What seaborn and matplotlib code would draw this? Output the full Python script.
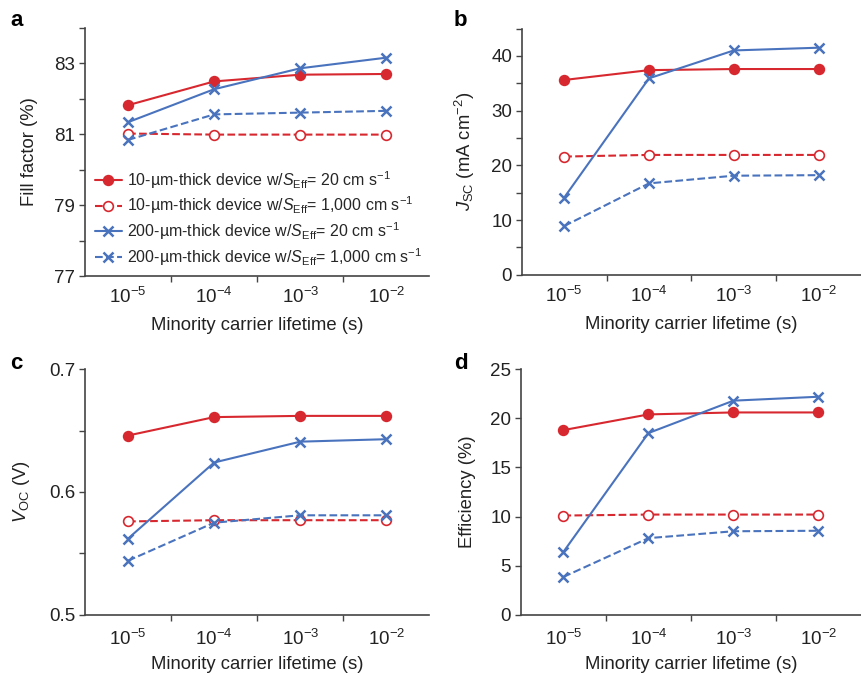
import numpy as np
import pandas as pd
import matplotlib
matplotlib.use("Agg")
import matplotlib.pyplot as plt
from matplotlib.ticker import FixedLocator, NullFormatter
from matplotlib.lines import Line2D
import seaborn as sns

sns.set_theme(style="ticks")
plt.rcParams['font.family'] = ['Liberation Sans', 'DejaVu Sans']
plt.rcParams['mathtext.fontset'] = 'custom'
plt.rcParams['mathtext.rm'] = 'Liberation Sans'
plt.rcParams['mathtext.it'] = 'Liberation Sans:italic'
plt.rcParams['mathtext.bf'] = 'Liberation Sans:bold'

# ---- data ----
lifetimes = [r'$10^{-5}$', r'$10^{-4}$', r'$10^{-3}$', r'$10^{-2}$']
series_labels = [
    r'10-µm-thick device w/$S_{\rm Eff}$= 20 cm s$^{-1}$',
    r'10-µm-thick device w/$S_{\rm Eff}$= 1,000 cm s$^{-1}$',
    r'200-µm-thick device w/$S_{\rm Eff}$= 20 cm s$^{-1}$',
    r'200-µm-thick device w/$S_{\rm Eff}$= 1,000 cm s$^{-1}$',
]

ff_10_s20 = [81.82, 82.49, 82.68, 82.70]
ff_10_s1000 = [81.02, 80.99, 80.99, 80.99]
ff_200_s20 = [81.34, 82.27, 82.86, 83.16]
ff_200_s1000 = [80.84, 81.56, 81.61, 81.66]

jsc_10_s20 = [35.6, 37.4, 37.6, 37.6]
jsc_10_s1000 = [21.6, 21.9, 21.9, 21.9]
jsc_200_s20 = [14.1, 35.9, 41.0, 41.5]
jsc_200_s1000 = [8.9, 16.7, 18.1, 18.2]

voc_10_s20 = [0.646, 0.661, 0.662, 0.662]
voc_10_s1000 = [0.576, 0.577, 0.577, 0.577]
voc_200_s20 = [0.562, 0.624, 0.641, 0.643]
voc_200_s1000 = [0.544, 0.575, 0.581, 0.581]

eff_10_s20 = [18.8, 20.4, 20.6, 20.6]
eff_10_s1000 = [10.1, 10.2, 10.2, 10.2]
eff_200_s20 = [6.4, 18.5, 21.8, 22.2]
eff_200_s1000 = [3.85, 7.8, 8.5, 8.55]

RED = '#D7282F'
BLUE = '#4A73BE'
styles = [
    dict(color=RED, marker='o', ls='-', mfc=RED, mec=RED, ms=7, mew=1.2),
    dict(color=RED, marker='o', ls='--', mfc='white', mec=RED, ms=7, mew=1.2),
    dict(color=BLUE, marker='x', ls='-', mfc=BLUE, mec=BLUE, ms=7, mew=1.8),
    dict(color=BLUE, marker='x', ls='--', mfc=BLUE, mec=BLUE, ms=7, mew=1.8),
]

panels = [
    ('a', [ff_10_s20, ff_10_s1000, ff_200_s20, ff_200_s1000], 'Fill factor (%)',
     (77, 84), [77, 79, 81, 83], [78, 80, 82, 84], lambda v: f'{v:g}'),
    ('b', [jsc_10_s20, jsc_10_s1000, jsc_200_s20, jsc_200_s1000], r'$J_{\rm SC}$ (mA cm$^{-2}$)',
     (0, 45), [0, 10, 20, 30, 40], [5, 15, 25, 35, 45], lambda v: f'{v:g}'),
    ('c', [voc_10_s20, voc_10_s1000, voc_200_s20, voc_200_s1000], r'$V_{\rm OC}$ (V)',
     (0.5, 0.7), [0.5, 0.6, 0.7], [0.55, 0.65], lambda v: f'{v:.1f}'),
    ('d', [eff_10_s20, eff_10_s1000, eff_200_s20, eff_200_s1000], 'Efficiency (%)',
     (0, 25), [0, 5, 10, 15, 20, 25], [], lambda v: f'{v:g}'),
]

rects = [
    (0.0987, 0.594, 0.400, 0.365),
    (0.606, 0.596, 0.394, 0.362),
    (0.0987, 0.096, 0.400, 0.361),
    (0.605, 0.096, 0.395, 0.361),
]
labelpos = [(0.012, 0.962), (0.527, 0.962), (0.012, 0.458), (0.527, 0.458)]
ylabelpads = [12, 10, 12, 10]
xtickpads = [8, 8, 10, 10]
xlabelpads = [7, 7, 5, 5]

fig = plt.figure(figsize=(8.61, 6.8), dpi=100)
xpos = np.arange(len(lifetimes))

for (letter, data, ylabel, ylim, yt, ymt, fmt), rect, lp, ylp, xtp, xlp in zip(
        panels, rects, labelpos, ylabelpads, xtickpads, xlabelpads):
    ax = fig.add_axes(rect)
    for vals, st, lab in zip(data, styles, series_labels):
        df = pd.DataFrame({'x': xpos, 'y': vals})
        sns.lineplot(data=df, x='x', y='y', ax=ax, color=st['color'], marker=st['marker'],
                     linestyle=st['ls'], markerfacecolor=st['mfc'], markeredgecolor=st['mec'],
                     markersize=st['ms'], markeredgewidth=st['mew'], linewidth=1.5,
                     label=lab, legend=False)
    ax.set_xlim(-0.5, len(lifetimes) - 0.5)
    ax.set_ylim(*ylim)
    ax.xaxis.set_major_locator(FixedLocator(xpos[:-1] + 0.5))
    ax.xaxis.set_major_formatter(NullFormatter())
    ax.xaxis.set_minor_locator(FixedLocator(xpos))
    ax.set_xticklabels(lifetimes, minor=True)
    ax.tick_params(axis='x', which='minor', length=0, labelsize=13.5, pad=xtp, colors='#222222')
    ax.tick_params(axis='x', which='major', length=4, width=1, color='#444444', direction='out')
    ax.set_yticks(yt)
    ax.set_yticklabels([fmt(v) for v in yt])
    ax.yaxis.set_minor_locator(FixedLocator(ymt))
    ax.tick_params(axis='y', which='both', length=4, width=1, color='#444444', labelsize=13.5,
                   direction='out', pad=3, labelcolor='#222222')
    for s in ['top', 'right']:
        ax.spines[s].set_visible(False)
    for s in ['left', 'bottom']:
        ax.spines[s].set_color('#444444')
        ax.spines[s].set_linewidth(1.2)
    ax.set_xlabel('Minority carrier lifetime (s)', fontsize=13.3, color='#222222', labelpad=xlp)
    ax.set_ylabel(ylabel, fontsize=13.3, color='#222222', labelpad=ylp)
    fig.text(lp[0], lp[1], letter, fontsize=16, fontweight='bold', color='black')
    if letter == 'a':
        handles = [Line2D([], [], color=st['color'], marker=st['marker'], linestyle=st['ls'],
                          markerfacecolor=st['mfc'], markeredgecolor=st['mec'],
                          markersize=st['ms'], markeredgewidth=st['mew'], linewidth=1.5)
                   for st in styles]
        ax.legend(handles, series_labels, loc='lower left', bbox_to_anchor=(0.0, -0.005),
                  frameon=False, fontsize=11.5, handlelength=1.7, handletextpad=0.3,
                  labelspacing=0.25, borderaxespad=0.2)

fig.savefig('out.png', dpi=100)
